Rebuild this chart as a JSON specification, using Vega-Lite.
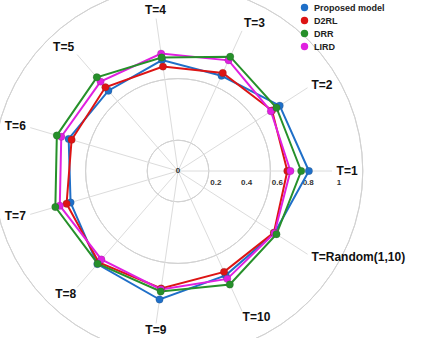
{
  "$schema": "https://vega.github.io/schema/vega-lite/v6.json",
  "width": 308,
  "height": 308,
  "autosize": {"type": "none"},
  "padding": {"left": 24, "top": 17, "right": 91, "bottom": 13},
  "background": "white",
  "config": {"view": {"stroke": null}, "font": "Liberation Sans"},
  "datasets": {
    "axes": [
      {"axis": "T=1", "order": 0},
      {"axis": "T=2", "order": 1},
      {"axis": "T=3", "order": 2},
      {"axis": "T=4", "order": 3},
      {"axis": "T=5", "order": 4},
      {"axis": "T=6", "order": 5},
      {"axis": "T=7", "order": 6},
      {"axis": "T=8", "order": 7},
      {"axis": "T=9", "order": 8},
      {"axis": "T=10", "order": 9},
      {"axis": "T=Random(1,10)", "order": 10}
    ],
    "ticks": [{"r": 0}, {"r": 0.2}, {"r": 0.4}, {"r": 0.6}, {"r": 0.8}, {"r": 1}],
    "scores": [
      {"model": "Proposed model", "T": "T=1", "value": 0.85},
      {"model": "Proposed model", "T": "T=2", "value": 0.785},
      {"model": "Proposed model", "T": "T=3", "value": 0.68},
      {"model": "Proposed model", "T": "T=4", "value": 0.728},
      {"model": "Proposed model", "T": "T=5", "value": 0.69},
      {"model": "Proposed model", "T": "T=6", "value": 0.74},
      {"model": "Proposed model", "T": "T=7", "value": 0.727},
      {"model": "Proposed model", "T": "T=8", "value": 0.8},
      {"model": "Proposed model", "T": "T=9", "value": 0.843},
      {"model": "Proposed model", "T": "T=10", "value": 0.745},
      {"model": "Proposed model", "T": "T=Random(1,10)", "value": 0.745},
      {"model": "D2RL", "T": "T=1", "value": 0.71},
      {"model": "D2RL", "T": "T=2", "value": 0.726},
      {"model": "D2RL", "T": "T=3", "value": 0.7},
      {"model": "D2RL", "T": "T=4", "value": 0.685},
      {"model": "D2RL", "T": "T=5", "value": 0.72},
      {"model": "D2RL", "T": "T=6", "value": 0.72},
      {"model": "D2RL", "T": "T=7", "value": 0.754},
      {"model": "D2RL", "T": "T=8", "value": 0.785},
      {"model": "D2RL", "T": "T=9", "value": 0.77},
      {"model": "D2RL", "T": "T=10", "value": 0.72},
      {"model": "D2RL", "T": "T=Random(1,10)", "value": 0.74},
      {"model": "LIRD", "T": "T=1", "value": 0.73},
      {"model": "LIRD", "T": "T=2", "value": 0.717},
      {"model": "LIRD", "T": "T=3", "value": 0.79},
      {"model": "LIRD", "T": "T=4", "value": 0.77},
      {"model": "LIRD", "T": "T=5", "value": 0.768},
      {"model": "LIRD", "T": "T=6", "value": 0.79},
      {"model": "LIRD", "T": "T=7", "value": 0.8},
      {"model": "LIRD", "T": "T=8", "value": 0.76},
      {"model": "LIRD", "T": "T=9", "value": 0.777},
      {"model": "LIRD", "T": "T=10", "value": 0.77},
      {"model": "LIRD", "T": "T=Random(1,10)", "value": 0.745},
      {"model": "DRR", "T": "T=1", "value": 0.8},
      {"model": "DRR", "T": "T=2", "value": 0.76},
      {"model": "DRR", "T": "T=3", "value": 0.816},
      {"model": "DRR", "T": "T=4", "value": 0.745},
      {"model": "DRR", "T": "T=5", "value": 0.805},
      {"model": "DRR", "T": "T=6", "value": 0.82},
      {"model": "DRR", "T": "T=7", "value": 0.83},
      {"model": "DRR", "T": "T=8", "value": 0.796},
      {"model": "DRR", "T": "T=9", "value": 0.79},
      {"model": "DRR", "T": "T=10", "value": 0.81},
      {"model": "DRR", "T": "T=Random(1,10)", "value": 0.76}
    ]
  },
  "layer": [
    {
      "data": {"name": "ticks"},
      "transform": [{"filter": "datum.r > 0"}],
      "mark": {"type": "arc", "theta": 0, "theta2": 6.2832, "filled": false, "stroke": "#d2d2d2", "strokeWidth": 1},
      "encoding": {
        "radius": {"field": "r", "type": "quantitative", "scale": {"type": "linear", "domain": [0, 1], "range": [0, 154], "zero": true}}
      }
    },
    {
      "data": {"name": "axes"},
      "transform": [
        {"calculate": "datum.order * 2 * PI / 11", "as": "a"},
        {"calculate": "cos(datum.a)", "as": "cx"},
        {"calculate": "sin(datum.a)", "as": "cy"}
      ],
      "mark": {"type": "rule", "color": "#dcdcdc", "strokeWidth": 1},
      "encoding": {
        "x": {"field": "cx", "type": "quantitative", "scale": {"domain": [-1, 1]}, "axis": null},
        "y": {"field": "cy", "type": "quantitative", "scale": {"domain": [-1, 1]}, "axis": null},
        "x2": {"datum": 0},
        "y2": {"datum": 0}
      }
    },
    {
      "data": {"name": "ticks"},
      "transform": [{"filter": "datum.r > 0"}],
      "mark": {"type": "text", "fontSize": 8, "fontWeight": "bold", "color": "#333", "dx": 7, "dy": 12},
      "encoding": {
        "x": {"field": "r", "type": "quantitative"},
        "y": {"datum": 0},
        "text": {"field": "r", "type": "quantitative", "format": "~g"}
      }
    },
    {
      "data": {"name": "ticks"},
      "transform": [{"filter": "datum.r == 0"}],
      "mark": {"type": "text", "fontSize": 8, "fontWeight": "bold", "color": "#333"},
      "encoding": {
        "x": {"field": "r", "type": "quantitative"},
        "y": {"datum": 0},
        "text": {"field": "r", "type": "quantitative", "format": "~g"}
      }
    },
    {
      "data": {"name": "axes"},
      "transform": [
        {"calculate": "datum.order * 2 * PI / 11", "as": "a"},
        {"calculate": "cos(datum.a)", "as": "cx"},
        {"calculate": "sin(datum.a)", "as": "cy"},
        {"calculate": "datum.cy < -0.6 ? 1.01 : 1.03", "as": "lr"},
        {"calculate": "datum.lr * datum.cx", "as": "lx"},
        {"calculate": "datum.lr * datum.cy", "as": "ly"}
      ],
      "mark": {
        "type": "text", "fontSize": 12, "fontWeight": "bold", "color": "#111",
        "align": {"expr": "datum.cx > 0.3 ? 'left' : (datum.cx < -0.3 ? 'right' : 'center')"},
        "baseline": {"expr": "datum.cy > 0.6 ? 'alphabetic' : (datum.cy < -0.6 ? 'top' : 'middle')"}
      },
      "encoding": {
        "x": {"field": "lx", "type": "quantitative"},
        "y": {"field": "ly", "type": "quantitative"},
        "text": {"field": "axis"}
      }
    },
    {
      "data": {"name": "scores"},
      "transform": [
        {"lookup": "T", "from": {"data": {"name": "axes"}, "key": "axis", "fields": ["order"]}},
        {"calculate": "datum.order * 2 * PI / 11", "as": "a"},
        {"calculate": "datum.value * cos(datum.a)", "as": "px"},
        {"calculate": "datum.value * sin(datum.a)", "as": "py"}
      ],
      "layer": [
        {
          "mark": {"type": "line", "interpolate": "linear-closed", "strokeWidth": 2},
          "encoding": {
            "x": {"field": "px", "type": "quantitative"},
            "y": {"field": "py", "type": "quantitative"},
            "order": {"field": "order", "type": "quantitative"},
            "color": {
              "field": "model", "type": "nominal",
              "scale": {"domain": ["Proposed model", "D2RL", "DRR", "LIRD"], "range": ["#1f6fc8", "#dd1414", "#26902a", "#e020e0"]}
            }
          }
        },
        {
          "mark": {"type": "point", "filled": true, "size": 55, "opacity": 1, "stroke": "#333", "strokeWidth": 0.5, "strokeOpacity": 0.35},
          "encoding": {
            "x": {"field": "px", "type": "quantitative"},
            "y": {"field": "py", "type": "quantitative"},
            "color": {
              "field": "model", "type": "nominal",
              "legend": {
                "orient": "none", "legendX": 276, "legendY": -14, "title": null,
                "symbolType": "circle", "symbolSize": 55, "symbolStrokeWidth": 0,
                "labelFont": "Liberation Sans", "labelFontWeight": "bold", "labelFontSize": 9, "labelColor": "#222",
                "rowPadding": 3, "labelOffset": 5,
                "encode": {"symbols": {"update": {"fill": {"scale": "color", "field": "value"}, "fillOpacity": {"value": 1}}}}
              }
            }
          }
        }
      ]
    }
  ]
}
